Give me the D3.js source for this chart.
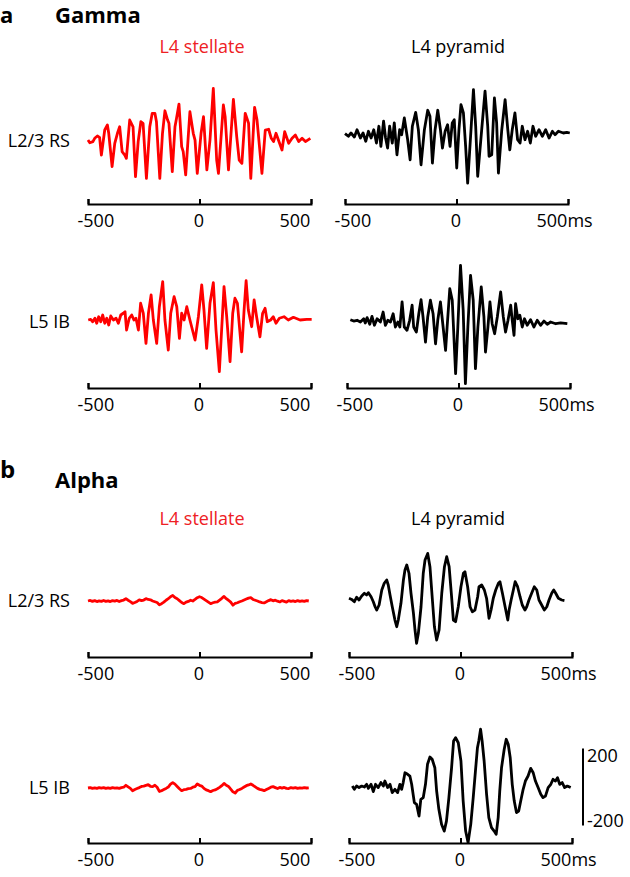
<!DOCTYPE html>
<html><head><meta charset="utf-8">
<script src="https://cdn.jsdelivr.net/npm/d3@7"></script>
<style>body{margin:0;background:#fff} svg text{font-family:"Open Sans",sans-serif}</style>
</head><body><svg id="c" width="630" height="877"></svg>
<script>
const timeTicks = [-500, 0, 500];
const columns = ["L4 stellate", "L4 pyramid"];
const rows = ["L2/3 RS", "L5 IB"];
const bands = ["Gamma", "Alpha"];
const bandLetters = ["a", "b"];
const scaleBarValues = [-200, 200];

// Gamma, L4 stellate x L2/3 RS
const gammaStellateRS = [[-500,5],[-492,-9],[-478,-3],[-470,14],[-458,26],[-448,19],[-440,-73],[-425,57],[-413,83],[-407,40],[-392,-133],[-380,-12],[-368,40],[-358,74],[-347,-55],[-335,-73],[-328,-90],[-313,109],[-298,74],[-287,-185],[-275,-3],[-263,100],[-253,92],[-238,-194],[-223,74],[-212,144],[-200,144],[-193,100],[-178,-194],[-166,40],[-155,157],[-143,109],[-137,92],[-122,-159],[-110,74],[-103,118],[-92,192],[-80,-29],[-73,-55],[-62,-176],[-43,152],[-28,40],[-20,5],[-10,-168],[7,40],[18,126],[33,-150],[47,5],[62,273],[77,-99],[85,-168],[107,187],[115,126],[130,-150],[152,216],[167,22],[178,-99],[190,-116],[205,144],[220,92],[230,-194],[247,175],[258,109],[280,-168],[295,57],[310,61],[322,14],[332,-3],[343,40],[370,-47],[382,48],[400,-12],[415,14],[430,31],[445,-3],[460,14],[475,-3],[497,14]];
// Gamma, L4 pyramid x L2/3 RS
const gammaPyramidRS = [[-500,-3],[-485,-17],[-473,0],[-458,-21],[-446,17],[-431,-26],[-419,0],[-407,-43],[-395,9],[-383,-26],[-371,17],[-359,-52],[-348,35],[-339,-69],[-327,61],[-318,-26],[-309,-78],[-300,35],[-288,-52],[-279,52],[-267,-113],[-255,17],[-246,-9],[-234,78],[-219,-35],[-208,-139],[-198,35],[-183,107],[-171,17],[-159,-165],[-144,17],[-129,118],[-119,87],[-108,-156],[-96,17],[-84,118],[-72,17],[-63,-78],[-51,9],[-40,43],[-29,-69],[-19,52],[-10,69],[1,-182],[11,17],[20,147],[31,104],[41,-69],[50,-260],[65,17],[76,225],[86,35],[95,-225],[113,17],[128,217],[140,35],[146,-121],[158,-113],[170,182],[180,52],[188,-208],[203,17],[218,173],[230,17],[239,-87],[250,17],[262,104],[274,-35],[285,-52],[295,35],[307,-35],[319,9],[331,-52],[343,35],[355,-17],[370,17],[385,-17],[400,17],[415,-26],[430,9],[442,-9],[457,9],[479,0],[495,3],[508,0]];
// Gamma, L4 stellate x L5 IB
const gammaStellateIB = [[-499,0],[-488,3],[-479,-9],[-469,9],[-461,-17],[-452,17],[-443,-9],[-434,26],[-425,-17],[-416,9],[-407,-26],[-398,21],[-386,0],[-374,9],[-364,-17],[-353,26],[-342,35],[-334,43],[-327,-52],[-315,9],[-304,26],[-294,0],[-285,9],[-274,-52],[-264,87],[-252,35],[-240,-121],[-229,35],[-217,130],[-207,0],[-192,-121],[-180,69],[-165,199],[-155,0],[-140,-156],[-129,35],[-114,121],[-102,69],[-90,-95],[-80,35],[-69,0],[-57,69],[-43,0],[-20,-104],[-5,17],[10,182],[20,52],[32,-147],[47,87],[62,194],[74,-52],[89,-268],[100,-35],[110,173],[122,17],[137,-216],[149,35],[159,113],[170,87],[189,-165],[200,52],[209,204],[219,52],[234,-35],[245,104],[256,17],[271,-87],[283,35],[294,61],[304,-9],[319,0],[331,17],[343,-17],[358,9],[379,17],[398,0],[421,14],[451,0],[481,3],[503,3]];
// Gamma, L4 pyramid x L5 IB
const gammaPyramidIB = [[-485,12],[-470,5],[-455,9],[-440,0],[-425,17],[-418,-5],[-410,23],[-398,-12],[-388,29],[-377,-17],[-365,17],[-350,0],[-338,52],[-328,-17],[-317,9],[-305,0],[-293,43],[-283,-26],[-272,0],[-263,-26],[-253,104],[-243,-26],[-231,-43],[-219,9],[-208,87],[-201,-26],[-189,-52],[-178,43],[-168,116],[-159,26],[-148,-104],[-138,26],[-126,113],[-114,43],[-103,-113],[-93,9],[-81,104],[-69,-26],[-58,-147],[-51,-26],[-39,173],[-28,113],[-13,-268],[-3,-26],[9,294],[21,61],[31,-320],[42,-26],[54,242],[66,113],[76,-242],[87,-26],[102,182],[114,26],[121,-156],[132,-26],[141,104],[151,-9],[162,-61],[174,26],[189,156],[201,26],[211,-52],[222,9],[234,87],[241,9],[249,-69],[256,95],[266,17],[275,35],[286,-26],[296,17],[308,-17],[323,12],[338,-26],[353,9],[368,-17],[383,5],[398,-12],[413,0],[436,-9],[458,-5],[488,-9]];
// Alpha, L4 stellate x L2/3 RS
const alphaStellateRS = [[-500,0],[-490,3],[-480,-2],[-470,2],[-460,-3],[-450,1],[-440,-2],[-430,3],[-420,-2],[-410,1],[-400,-3],[-390,2],[-380,-1],[-370,3],[-360,-3],[-350,2],[-340,5],[-330,12],[-320,4],[-310,-3],[-300,-12],[-290,-8],[-280,-2],[-270,6],[-260,2],[-250,5],[-240,12],[-230,8],[-220,6],[-210,0],[-200,-4],[-190,-8],[-180,-20],[-170,-14],[-160,-6],[-150,4],[-140,12],[-130,22],[-120,29],[-110,18],[-100,12],[-90,2],[-80,-8],[-70,-14],[-60,-6],[-50,-2],[-40,4],[-30,0],[-20,8],[-10,17],[0,22],[10,18],[20,10],[30,2],[40,-6],[50,-14],[60,-9],[70,-6],[80,-4],[90,5],[100,14],[110,24],[120,12],[130,4],[140,-6],[150,-22],[160,-12],[170,-9],[180,-4],[190,0],[200,5],[210,10],[220,15],[230,17],[240,8],[250,4],[260,0],[270,-5],[280,-8],[290,-10],[300,-4],[310,2],[320,7],[330,1],[340,4],[350,-1],[360,-5],[370,2],[380,-2],[390,-6],[400,2],[410,-2],[420,1],[430,-3],[440,2],[450,-2],[460,1],[470,-2],[480,2],[490,0]];
// Alpha, L4 pyramid x L2/3 RS
const alphaPyramidRS = [[-500,9],[-488,3],[-476,-9],[-466,14],[-455,0],[-443,21],[-431,35],[-421,26],[-413,38],[-401,17],[-391,-9],[-383,-35],[-376,-52],[-365,-26],[-353,52],[-342,87],[-331,104],[-324,78],[-316,26],[-306,-35],[-294,-104],[-286,-139],[-279,-104],[-267,-17],[-256,104],[-249,156],[-241,182],[-231,139],[-222,35],[-211,-69],[-204,-156],[-197,-225],[-189,-173],[-177,-35],[-167,139],[-159,208],[-147,242],[-137,173],[-126,0],[-117,-139],[-107,-208],[-96,-156],[-84,35],[-72,173],[-62,225],[-51,173],[-40,17],[-32,-104],[-22,-113],[-10,-35],[2,69],[13,139],[20,147],[32,69],[43,-35],[53,-61],[65,-52],[77,17],[83,69],[95,78],[107,52],[117,9],[128,-95],[137,-52],[147,9],[158,52],[170,87],[177,95],[188,35],[200,-35],[212,-104],[218,-52],[227,0],[237,52],[245,95],[256,69],[267,17],[277,-26],[289,-52],[297,-35],[307,0],[319,35],[331,69],[342,52],[352,0],[364,-26],[376,-52],[387,-35],[397,0],[409,35],[418,52],[427,35],[439,9],[454,0],[466,-3]];
// Alpha, L4 stellate x L5 IB
const alphaStellateIB = [[-500,0],[-490,2],[-480,-2],[-470,1],[-460,-2],[-450,2],[-440,-1],[-430,2],[-420,-2],[-410,1],[-400,-2],[-390,2],[-380,-1],[-370,1],[-360,-2],[-350,2],[-340,4],[-330,14],[-320,6],[-310,-2],[-300,-14],[-290,-8],[-280,-3],[-270,2],[-260,8],[-250,10],[-240,14],[-230,17],[-220,9],[-210,7],[-200,14],[-190,4],[-180,-18],[-170,-14],[-160,-8],[-150,-2],[-140,5],[-130,20],[-120,28],[-110,20],[-100,8],[-90,-4],[-80,-14],[-70,-9],[-60,-7],[-50,-3],[-40,-2],[-30,4],[-20,7],[-10,21],[0,14],[10,10],[20,-2],[30,-10],[40,-14],[50,-19],[60,-13],[70,-10],[80,-4],[90,3],[100,12],[110,24],[120,14],[130,8],[140,-6],[150,-20],[160,-26],[170,-12],[180,-8],[190,-2],[200,5],[210,12],[220,16],[230,21],[240,14],[250,6],[260,-2],[270,-7],[280,-10],[290,-14],[300,-8],[310,-2],[320,4],[330,7],[340,2],[350,-3],[360,3],[370,-1],[380,3],[390,-2],[400,-3],[410,2],[420,-1],[430,2],[440,-2],[450,1],[460,-1],[470,2],[480,0],[490,1]];
// Alpha, L4 pyramid x L5 IB
const alphaPyramidIB = [[-485,5],[-476,-12],[-466,5],[-455,-3],[-443,5],[-431,0],[-421,14],[-413,-7],[-401,14],[-391,-24],[-381,14],[-369,-3],[-357,23],[-346,5],[-339,31],[-327,-3],[-316,14],[-306,-29],[-294,-12],[-282,-29],[-272,14],[-264,-12],[-257,23],[-249,74],[-237,66],[-227,57],[-219,14],[-207,-81],[-197,-90],[-186,-151],[-178,-64],[-167,-55],[-157,14],[-148,118],[-137,156],[-127,144],[-115,100],[-107,-21],[-97,-116],[-85,-194],[-73,-229],[-63,-177],[-52,-55],[-40,100],[-31,239],[-22,256],[-10,230],[2,135],[12,-73],[23,-229],[34,-289],[46,-194],[57,-55],[67,83],[76,204],[82,239],[90,300],[97,239],[106,135],[117,-38],[127,-159],[139,-211],[151,-229],[160,-246],[169,-159],[176,-21],[184,100],[196,196],[205,248],[214,222],[223,152],[232,14],[241,-73],[251,-133],[261,-125],[270,-73],[281,-12],[291,31],[303,57],[315,97],[326,74],[336,31],[348,-3],[360,-38],[370,-55],[381,-47],[393,-3],[405,14],[415,40],[426,31],[435,48],[445,14],[456,23],[467,-3],[479,5],[494,-3]];

const RED = "#ff0000", TXT_RED = "#ee2024";
const svg = d3.select("#c");
const FONT = '"Open Sans", sans-serif';

const panels = [
  {data: gammaStellateRS, x0: 88, x1: 311, base: 141, axisY: 204, color: RED, ms: false},
  {data: gammaPyramidRS, x0: 345, x1: 568, base: 133, axisY: 204, color: "#000", ms: true},
  {data: gammaStellateIB, x0: 88, x1: 311, base: 320, axisY: 388, color: RED, ms: false},
  {data: gammaPyramidIB, x0: 347, x1: 570, base: 322, axisY: 388, color: "#000", ms: true},
  {data: alphaStellateRS, x0: 88, x1: 311, base: 601, axisY: 657, color: RED, ms: false},
  {data: alphaPyramidRS, x0: 349, x1: 572, base: 600, axisY: 657, color: "#000", ms: true},
  {data: alphaStellateIB, x0: 88, x1: 311, base: 788, axisY: 843, color: RED, ms: false},
  {data: alphaPyramidIB, x0: 349, x1: 572, base: 787, axisY: 843, color: "#000", ms: true, bar: true}
];

panels.forEach(p => {
  const x = d3.scaleLinear().domain([-500, 500]).range([p.x0, p.x1]);
  const y = d3.scaleLinear().domain([-400, 400]).range([p.base + 77, p.base - 77]);
  svg.append("path").datum(p.data)
    .attr("d", d3.line().x(d => x(d[0])).y(d => y(d[1])))
    .attr("fill", "none").attr("stroke", p.color).attr("stroke-width", 2.8)
    .attr("stroke-linejoin", "round");
  const ax = svg.append("g").attr("transform", `translate(0,${p.axisY})`)
    .call(d3.axisBottom(x).tickValues(timeTicks).tickSizeInner(-5).tickSizeOuter(-5).tickPadding(10)
      .tickFormat(d => (d === 500 && p.ms) ? "500ms" : String(d)));
  ax.attr("font-family", FONT).attr("font-size", 18);
  ax.select(".domain").attr("stroke-width", 2);
  ax.selectAll(".tick line").attr("stroke-width", 2);
  ax.selectAll(".tick text")
    .attr("text-anchor", d => d === 0 ? "middle" : "start")
    .attr("dx", d => d < 0 ? -11 : d > 0 ? -32 : -1);
  if (p.bar) {
    const bx = 583;
    svg.append("line").attr("x1", bx).attr("x2", bx)
      .attr("y1", y(scaleBarValues[1])).attr("y2", y(scaleBarValues[0]))
      .attr("stroke", "#000").attr("stroke-width", 2);
    scaleBarValues.forEach(v => {
      svg.append("text").attr("x", bx + 4).attr("y", y(v)).attr("dy", v > 0 ? "0.75em" : "0.1em")
        .attr("font-size", 18).attr("font-family", FONT).text(String(v));
    });
  }
});

// Section letters and band titles
const sectionTop = [0, 466];
bands.forEach((b, i) => {
  svg.append("text").attr("x", 0).attr("y", sectionTop[i] + (i === 0 ? 23 : 12))
    .attr("font-size", i === 0 ? 22 : 24).attr("font-weight", "bold").attr("font-family", FONT).text(bandLetters[i]);
  svg.append("text").attr("x", 55).attr("y", sectionTop[i] + (i === 0 ? 23 : 22))
    .attr("font-size", 22).attr("font-weight", "bold").attr("font-family", FONT).text(b);
});
// Column headers
const headerY = [53, 525];
const colX = [202, 458];
headerY.forEach(hy => {
  columns.forEach((c, j) => {
    svg.append("text").attr("x", colX[j]).attr("y", hy).attr("text-anchor", "middle")
      .attr("font-size", 18).attr("font-family", FONT).attr("fill", j === 0 ? TXT_RED : "#000").text(c);
  });
});
// Row labels
const rowY = [[141, 322], [601, 788]];
rowY.forEach(ys => {
  rows.forEach((r, k) => {
    svg.append("text").attr("x", 70).attr("y", ys[k]).attr("dy", "0.35em").attr("text-anchor", "end")
      .attr("font-size", 18).attr("font-family", FONT).text(r);
  });
});
</script></body></html>
